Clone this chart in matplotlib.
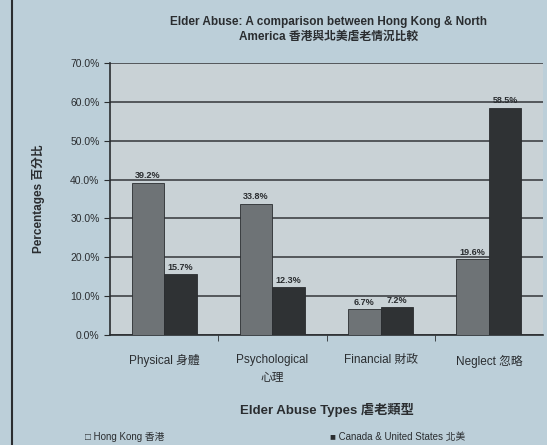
import numpy as np
import matplotlib
matplotlib.use("Agg")
import matplotlib.pyplot as plt

plt.rcParams["font.family"] = ["Liberation Sans", "Noto Sans CJK TC", "DejaVu Sans"]

# Data
categories = ["Physical 身體", "Psychological\n心理", "Financial 財政", "Neglect 忽略"]
hong_kong = [39.2, 33.8, 6.7, 19.6]
north_america = [15.7, 12.3, 7.2, 58.5]
series_names = ["Hong Kong 香港", "Canada & United States 北美"]

BG = "#bccfd9"
PLOT_BG = "#c9d2d6"
HK_COLOR = "#6e7376"
NA_COLOR = "#2f3234"
INK = "#2a2d30"

fig = plt.figure(figsize=(5.47, 4.45), dpi=100, facecolor=BG)
ax = fig.add_axes([110 / 547, 1 - 335 / 445, (543 - 110) / 547, (335 - 63) / 445])
ax.set_facecolor(PLOT_BG)

x = np.arange(len(categories))
w = 0.3
b1 = ax.bar(x - w / 2, hong_kong, w, color=HK_COLOR, edgecolor=INK, linewidth=0.6,
            label=series_names[0], zorder=3)
b2 = ax.bar(x + w / 2, north_america, w, color=NA_COLOR, edgecolor=INK, linewidth=0.6,
            label=series_names[1], zorder=3)

for bars, vals in ((b1, hong_kong), (b2, north_america)):
    for r, v in zip(bars, vals):
        ax.text(r.get_x() + r.get_width() / 2, v + 0.6, f"{v:.1f}%", ha="center",
                va="bottom", fontsize=6.5, fontweight="bold", color=INK, zorder=4)

ax.set_xlim(-0.5, len(categories) - 0.5)
ax.set_ylim(0, 70)
ax.set_yticks(np.arange(0, 71, 10))
ax.set_yticklabels([f"{v:.1f}%" for v in range(0, 71, 10)], fontsize=7.5, color=INK)
ax.yaxis.grid(True, color="#4a4e52", linewidth=1.3, zorder=1)
ax.set_axisbelow(True)

ax.set_xticks(x)
ax.set_xticklabels(categories, fontsize=8.5, color=INK, linespacing=1.6)
ax.set_xticks(np.arange(0.5, len(categories) - 0.5, 1), minor=True)
ax.tick_params(axis="x", which="major", length=0, pad=14)
ax.tick_params(axis="x", which="minor", length=4, color=INK, direction="out")
ax.tick_params(axis="y", length=4, color=INK, direction="out")

for s in ("top", "right"):
    ax.spines[s].set_visible(False)
for s in ("left", "bottom"):
    ax.spines[s].set_color(INK)
    ax.spines[s].set_linewidth(1.2)

ax.set_ylabel("Percentages 百分比", fontsize=8.5, fontweight="bold", color=INK, labelpad=18)
ax.set_xlabel("Elder Abuse Types 虐老類型", fontsize=9.5, fontweight="bold", color=INK,
              labelpad=14)

fig.text(0.60, 0.965, "Elder Abuse: A comparison between Hong Kong & North\nAmerica 香港與北美虐老情況比較",
         ha="center", va="top", fontsize=8.5, fontweight="bold", color=INK, linespacing=1.3)

# legend split across the bottom like the print
fig.text(85 / 547, 1 - 437 / 445, "□ " + series_names[0], fontsize=7, color=INK, va="center")
fig.text(330 / 547, 1 - 437 / 445, "■ " + series_names[1], fontsize=7, color=INK, va="center")

# page border on the left
fig.add_artist(plt.Line2D([12 / 547, 12 / 547], [0, 1], color=INK, linewidth=1.5))

fig.savefig("out.png", dpi=100, facecolor=BG)
